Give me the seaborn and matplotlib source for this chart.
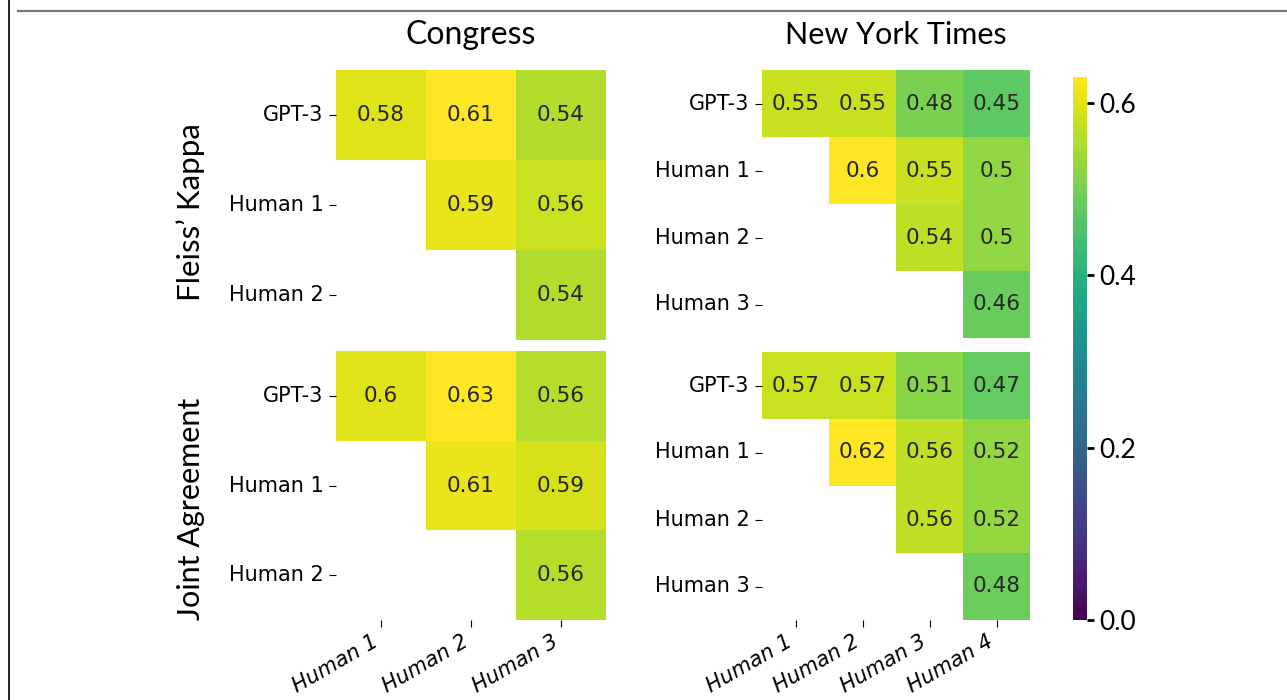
import numpy as np
import pandas as pd
import seaborn as sns
import matplotlib
matplotlib.use("Agg")
from matplotlib import pyplot as plt
from matplotlib.lines import Line2D

nan = np.nan

congress_rows = ["GPT-3", "Human 1", "Human 2"]
congress_cols = ["Human 1", "Human 2", "Human 3"]
nyt_rows = ["GPT-3", "Human 1", "Human 2", "Human 3"]
nyt_cols = ["Human 1", "Human 2", "Human 3", "Human 4"]

congress_kappa = [[0.58, 0.61, 0.54],
                  [nan, 0.59, 0.56],
                  [nan, nan, 0.54]]
congress_joint = [[0.60, 0.63, 0.56],
                  [nan, 0.61, 0.59],
                  [nan, nan, 0.56]]
nyt_kappa = [[0.55, 0.55, 0.48, 0.45],
             [nan, 0.60, 0.55, 0.50],
             [nan, nan, 0.54, 0.50],
             [nan, nan, nan, 0.46]]
nyt_joint = [[0.57, 0.57, 0.51, 0.47],
             [nan, 0.62, 0.56, 0.52],
             [nan, nan, 0.56, 0.52],
             [nan, nan, nan, 0.48]]

col_titles = ["Congress", "New York Times"]
row_titles = ["Fleiss\u2019 Kappa", "Joint Agreement"]

title_font = "Lato"

fig = plt.figure(figsize=(12.87, 7), dpi=100)
W, H = 1287, 700

def box(x0, y0, x1, y1):
    return [x0 / W, 1 - y1 / H, (x1 - x0) / W, (y1 - y0) / H]

ax_ck = fig.add_axes(box(336, 70, 606, 340))
ax_cj = fig.add_axes(box(336, 351, 606, 620))
ax_nk = fig.add_axes(box(762, 70, 1030, 338))
ax_nj = fig.add_axes(box(762, 352, 1030, 620))
cax = fig.add_axes(box(1073, 77, 1087, 620))

panels = [
    (ax_ck, congress_kappa, congress_rows, congress_cols, False, False),
    (ax_cj, congress_joint, congress_rows, congress_cols, True, True),
    (ax_nk, nyt_kappa, nyt_rows, nyt_cols, False, False),
    (ax_nj, nyt_joint, nyt_rows, nyt_cols, True, False),
]
for ax, vals, rows, cols, bottom, with_cbar in panels:
    df = pd.DataFrame(vals, index=rows, columns=cols)
    # each panel scaled from 0 to its own maximum
    sns.heatmap(df, ax=ax, cmap="viridis", vmin=0, vmax=np.nanmax(vals),
                annot=True, annot_kws={"fontsize": 15.5}, cbar=with_cbar,
                cbar_ax=cax if with_cbar else None)
    ax.tick_params(axis="y", labelsize=15, rotation=0, length=5, pad=4)
    ax.tick_params(axis="x", length=5)
    if bottom:
        ax.set_xticklabels(cols, rotation=30, ha="right", fontsize=15,
                           style="italic")
    else:
        ax.set_xticks([])

cax.set_yticks([0.0, 0.2, 0.4, 0.6])
cax.tick_params(labelsize=19, length=5, width=2)
for t in cax.get_yticklabels():
    t.set_family(title_font)

fig.text(471 / W, 1 - 35 / H, col_titles[0], ha="center", va="center",
         fontsize=23, family=title_font)
fig.text(896 / W, 1 - 35 / H, col_titles[1], ha="center", va="center",
         fontsize=22, family=title_font)
fig.text(191 / W, 1 - 212 / H, row_titles[0], ha="center", va="center",
         rotation=90, fontsize=22.5, family=title_font)
fig.text(191 / W, 1 - 509 / H, row_titles[1], ha="center", va="center",
         rotation=90, fontsize=22, family=title_font)

# frame lines of the original crop
fig.add_artist(Line2D([18 / W, 1], [1 - 11 / H, 1 - 11 / H], color="#777777", lw=1.6))
fig.add_artist(Line2D([9 / W, 9 / W], [0, 1], color="black", lw=1.2))

fig.savefig("out.png", dpi=100)
